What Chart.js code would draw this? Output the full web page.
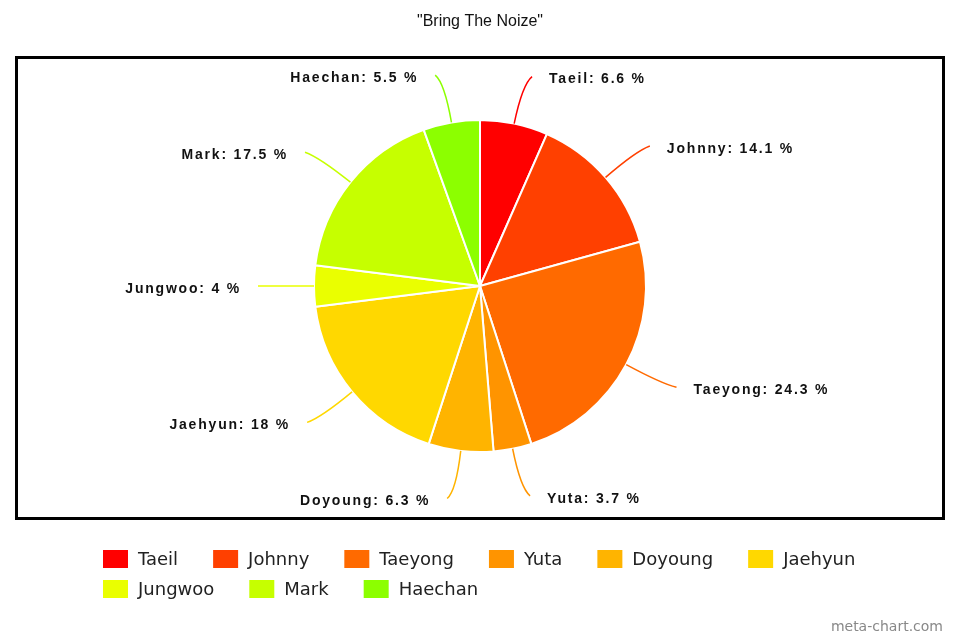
<!DOCTYPE html>
<html>
<head>
<meta charset="utf-8">
<script src="https://cdn.jsdelivr.net/npm/chart.js@4.4.0/dist/chart.umd.min.js"></script>
<style>
  html, body { margin: 0; padding: 0; background: #fff; }
  #wrap { width: 960px; height: 640px; }
</style>
</head>
<body>
<div id="wrap"><canvas id="pieChart"></canvas></div>
<script>
// data
const members = ['Taeil', 'Johnny', 'Taeyong', 'Yuta', 'Doyoung', 'Jaehyun', 'Jungwoo', 'Mark', 'Haechan'];
const shares = [6.6, 14.1, 24.3, 3.7, 6.3, 18, 4, 17.5, 5.5];
const colors = ['#ff0000', '#ff4000', '#ff6a00', '#ff9400', '#ffb400', '#ffd800', '#eaff00', '#c6ff00', '#8cff00'];

// frame, title, outside labels, legend and watermark
const decorations = {
    id: 'decorations',
    afterDraw(chart) {
        const ctx = chart.ctx;
        ctx.save();

        // title
        ctx.fillStyle = '#111';
        ctx.font = '16px "Liberation Sans", Arial, sans-serif';
        ctx.textAlign = 'center';
        ctx.textBaseline = 'middle';
        ctx.fillText('"Bring The Noize"', 480, 22);

        // frame
        ctx.strokeStyle = '#000';
        ctx.lineWidth = 3;
        ctx.strokeRect(16.5, 57.5, 927, 461);

        // labels with leader lines
        const arcs = chart.getDatasetMeta(0).data;
        ctx.font = 'bold 14px "Liberation Sans", Arial, sans-serif';
        ctx.letterSpacing = '1.8px';
        ctx.textBaseline = 'middle';
        arcs.forEach((arc, i) => {
            const mid = (arc.startAngle + arc.endAngle) / 2;
            const r = arc.outerRadius;
            const cx = arc.x, cy = arc.y;
            const cos = Math.cos(mid), sin = Math.sin(mid);
            const right = cos >= 0;
            const sx = cx + cos * r, sy = cy + sin * r;
            const ax = cx + cos * (r + 48), ay = cy + sin * (r + 48);
            const ex = ax + (right ? 8 : -8);
            ctx.strokeStyle = colors[i];
            ctx.lineWidth = 1.5;
            ctx.beginPath();
            ctx.moveTo(sx, sy);
            ctx.quadraticCurveTo(cx + cos * (r + 40), cy + sin * (r + 40), ex, ay);
            ctx.stroke();
            ctx.fillStyle = '#111';
            ctx.textAlign = right ? 'left' : 'right';
            ctx.fillText(members[i] + ': ' + shares[i] + ' %', ax + (right ? 25 : -25), ay + 3);
        });
        ctx.letterSpacing = '0px';

        // legend
        ctx.font = '18px "DejaVu Sans", sans-serif';
        ctx.textAlign = 'left';
        ctx.textBaseline = 'middle';
        let x = 103, y = 559;
        members.forEach((name, i) => {
            const w = 25 + 10 + ctx.measureText(name).width;
            if (x + w > 870) { x = 103; y += 30; }
            ctx.fillStyle = colors[i];
            ctx.fillRect(x, y - 9, 25, 18);
            ctx.fillStyle = '#222';
            ctx.fillText(name, x + 35, y + 1);
            x += w + 35;
        });

        // watermark
        ctx.font = '14px "DejaVu Sans", sans-serif';
        ctx.fillStyle = '#888';
        ctx.textAlign = 'right';
        ctx.fillText('meta-chart.com', 943, 627);
        ctx.restore();
    }
};

const ctxPie = document.getElementById('pieChart').getContext('2d');
const pieChart = new Chart(ctxPie, {
    type: 'pie',
    data: {
        labels: members,
        datasets: [{
            label: 'Bring The Noize',
            data: shares,
            backgroundColor: colors,
            borderColor: '#ffffff',
            borderWidth: 2
        }]
    },
    options: {
        responsive: true,
        maintainAspectRatio: false,
        animation: false,
        layout: { padding: { top: 119, bottom: 187, left: 0, right: 0 } },
        plugins: {
            legend: { display: false },
            title: { display: false },
            tooltip: { enabled: false }
        }
    },
    plugins: [decorations]
});
</script>
</body>
</html>
